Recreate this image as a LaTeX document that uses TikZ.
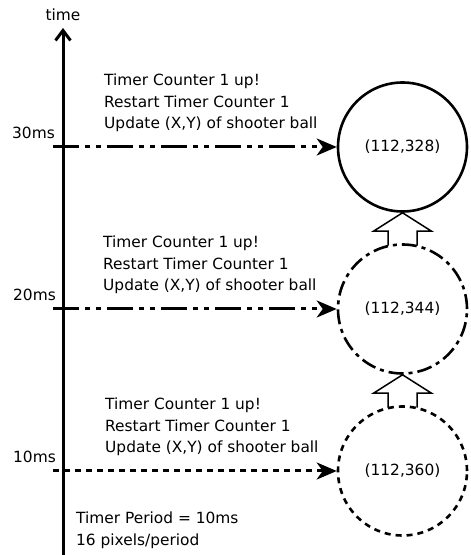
\documentclass[tikz,border=0pt]{standalone}
\usepackage{fontspec}
\setmainfont{DejaVu Sans}
\usetikzlibrary{arrows.meta,calc}

\tikzset{
  lbl/.style={font=\fontsize{15.4}{21.5}\selectfont, inner sep=0pt},
  note/.style={lbl, align=left, anchor=south west},
  ball/.style={circle, draw, line width=2.6pt, minimum size=129pt, inner sep=0pt,
               font=\fontsize{15.4}{18}\selectfont},
  axisline/.style={line width=3pt, -{Straight Barb[length=10pt,width=15pt]}},
  tickline/.style={line width=3pt, -{Stealth[length=20pt,width=17pt,inset=6pt]}},
  dashdotdot/.style={dash pattern=on 26pt off 6pt on 5pt off 6pt on 5pt off 6pt},
  evendash/.style={dash pattern=on 6pt off 5pt},
  longdashdot/.style={dash pattern=on 15pt off 5pt on 4pt off 5pt},
  hollow/.style={line width=1.5pt, line join=miter},
}

\begin{document}
\begin{tikzpicture}[x=1pt,y=1pt]
  \fill[white] (0,0) rectangle (471,555);
  \useasboundingbox (0,0) rectangle (471,555);

  % time axis
  \node[lbl] (time) at (63,540) {time};
  \coordinate (axbot) at (63,0);
  \coordinate (axtop) at (63,527);
  \draw[axisline] (axbot) -- (axtop);

  % ball positions
  \node[ball] (c1) at (402.5,408) {(112,328)};
  \node[ball, longdashdot] (c2) at (402.5,246) {(112,344)};
  \node[ball, evendash] (c3) at (402.5,84) {(112,360)};

  % time marks
  \node[lbl, anchor=base east] (l30) at (55,416) {30ms};
  \node[lbl, anchor=base east] (l20) at (56,254) {20ms};
  \node[lbl, anchor=base east] (l10) at (56,92) {10ms};

  \coordinate (s30) at (53,408);
  \coordinate (s20) at (53,246);
  \coordinate (s10) at (53,84);
  \draw[tickline, dashdotdot] (s30) -- (c1.west);
  \draw[tickline, dashdotdot] (s20) -- (c2.west);
  \draw[tickline, evendash] (s10) -- (c3.west);

  % interrupt actions
  \node[note] (n30) at (104,423) {Timer Counter 1 up!\\Restart Timer Counter 1\\Update (X,Y) of shooter ball};
  \node[note] (n20) at (103,261) {Timer Counter 1 up!\\Restart Timer Counter 1\\Update (X,Y) of shooter ball};
  \node[note] (n10) at (105,99) {Timer Counter 1 up!\\Restart Timer Counter 1\\Update (X,Y) of shooter ball};

  % movement between positions
  \draw[hollow] ($(c2.north)+(-14.5,-2.5)$) -- ($(c2.north)+(-14.5,12)$)
    -- ($(c2.north)+(-29,12)$) -- (c1.south) -- ($(c2.north)+(29,12)$)
    -- ($(c2.north)+(14.5,12)$) -- ($(c2.north)+(14.5,-2.5)$);
  \draw[hollow] ($(c3.north)+(-14.5,-2.5)$) -- ($(c3.north)+(-14.5,12)$)
    -- ($(c3.north)+(-29,12)$) -- (c2.south) -- ($(c3.north)+(29,12)$)
    -- ($(c3.north)+(14.5,12)$) -- ($(c3.north)+(14.5,-2.5)$);

  % timer settings
  \node[lbl, align=left, anchor=north west] (period) at (76,43) {Timer Period = 10ms\\16 pixels/period};
\end{tikzpicture}
\end{document}
